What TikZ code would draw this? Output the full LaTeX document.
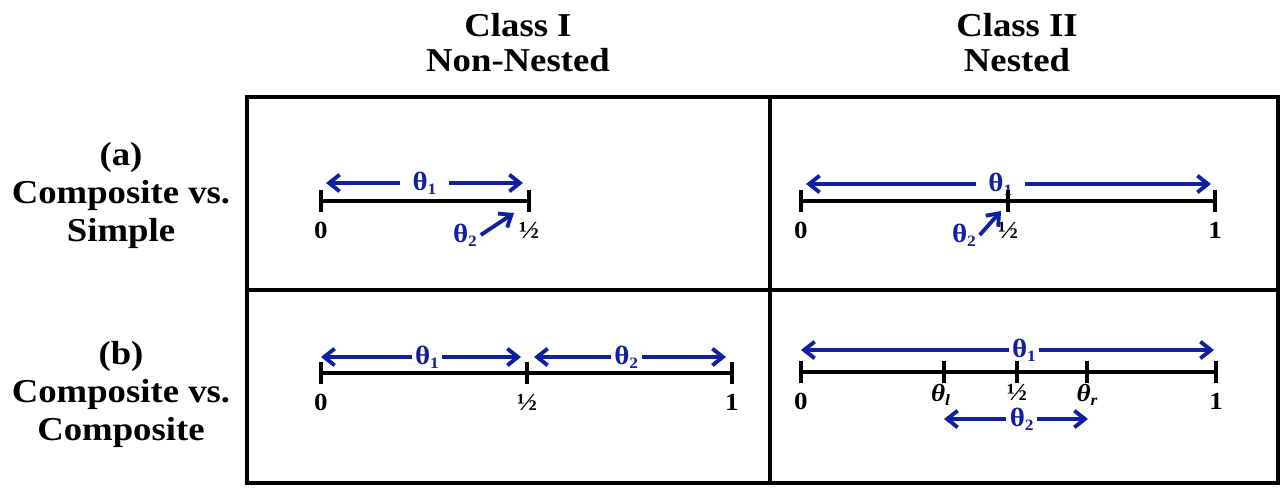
\documentclass[tikz,border=0pt]{standalone}
\usepackage{fontspec}
\setmainfont[FakeStretch=1.1]{Liberation Serif}
\usetikzlibrary{arrows.meta, positioning}
\definecolor{azul}{RGB}{16,32,160}
\tikzset{
    marco/.style = {line width=2.8pt},
    recta/.style = {line width=2.2pt},
    punta/.tip = {Straight Barb[length=6pt, width=9.5pt]},
    rango/.style = {azul, line width=2.2pt, punta-punta},
    flecha/.style = {azul, line width=2.2pt, -punta},
    theta/.style = {fill=white, text=azul, inner xsep=2pt, inner ysep=0pt, font=\fontsize{15}{15}\selectfont\bfseries},
    valor/.style = {inner sep=0pt, font=\fontsize{14}{14}\selectfont\bfseries},
    titulo/.style = {align=center, inner sep=0pt, font=\fontsize{19}{20}\selectfont\bfseries},
    fila/.style = {titulo, font=\fontsize{19}{21.5}\selectfont\bfseries}
}
\newcommand{\tsub}[1]{θ\raisebox{-0.35ex}{\fontsize{9}{9}\selectfont #1}}

\begin{document}
\begin{tikzpicture}[x=0.02cm, y=-0.02cm, node distance=0.42cm]
    \useasboundingbox (0,0) rectangle (1281,487);
    % Marco
    \draw[marco] (247,97) rectangle (1278,483);
    \draw[marco] (770,97) -- (770,483);
    \draw[marco] (247,290) -- (1278,290);
    % Titulos
    \node[titulo, anchor=north] (claseI) at (518,13) {Class I\\Non-Nested};
    \node[titulo, anchor=north] (claseII) at (1017,13) {Class II\\Nested};
    \node[fila, anchor=north] (filaA) at (121,142) {(a)\\Composite vs.\\Simple};
    \node[fila, anchor=north] (filaB) at (121,341) {(b)\\Composite vs.\\Composite};
    % (a) Class I
    \coordinate (aI0) at (321,201);
    \coordinate (aIm) at (529,201);
    \coordinate (aIt1L) at (326,183);
    \coordinate (aIt1R) at (523,183);
    \coordinate (aIp2) at (514,213);
    \draw[rango] (aIt1L) -- node[theta, inner xsep=7pt] {\tsub{1}} (aIt1R);
    \draw[recta] (aI0) -- (aIm);
    \foreach \p in {aI0,aIm} \draw[recta] (\p) ++(0,-11) -- ++(0,22);
    \node[valor, below=of aI0] (aI0l) {0};
    \node[valor, below=of aIm] (aIml) {½};
    \node[theta, fill=none] (aIt2) at (465,235) {\tsub{2}};
    \draw[flecha] (aIt2.east) -- (aIp2);
    % (a) Class II
    \coordinate (aII0) at (801,201);
    \coordinate (aIIm) at (1008,201);
    \coordinate (aII1) at (1215,201);
    \coordinate (aIIt1L) at (806,184);
    \coordinate (aIIt1R) at (1211,184);
    \coordinate (aIIp2) at (1001,211);
    \draw[rango] (aIIt1L) -- node[theta, inner xsep=7pt, pos=0.48] {\tsub{1}} (aIIt1R);
    \draw[recta] (aII0) -- (aII1);
    \foreach \p in {aII0,aIIm,aII1} \draw[recta] (\p) ++(0,-11) -- ++(0,22);
    \node[valor, below=of aII0] (aII0l) {0};
    \node[valor, below=of aIIm] (aIIml) {½};
    \node[valor, below=of aII1] (aII1l) {1};
    \node[theta, fill=none] (aIIt2) at (964,235) {\tsub{2}};
    \draw[flecha] (aIIt2.east) -- (aIIp2);
    % (b) Class I
    \coordinate (bI0) at (321,373);
    \coordinate (bIm) at (527,373);
    \coordinate (bI1) at (732,373);
    \coordinate (bIt1L) at (321,357);
    \coordinate (bIt1R) at (521,357);
    \coordinate (bIt2L) at (534,357);
    \coordinate (bIt2R) at (726,357);
    \draw[rango] (bIt1L) -- node[theta, pos=0.53] {\tsub{1}} (bIt1R);
    \draw[rango] (bIt2L) -- node[theta, pos=0.48] {\tsub{2}} (bIt2R);
    \draw[recta] (bI0) -- (bI1);
    \foreach \p in {bI0,bIm,bI1} \draw[recta] (\p) ++(0,-11) -- ++(0,22);
    \node[valor, below=of bI0] (bI0l) {0};
    \node[valor, below=of bIm] (bIml) {½};
    \node[valor, below=of bI1] (bI1l) {1};
    % (b) Class II
    \coordinate (bII0) at (801,372);
    \coordinate (bIIl) at (944,372);
    \coordinate (bIIm) at (1017,372);
    \coordinate (bIIr) at (1087,372);
    \coordinate (bII1) at (1216,372);
    \coordinate (bIIt1L) at (801,350);
    \coordinate (bIIt1R) at (1214,350);
    \coordinate (bIIt2L) at (944,419);
    \coordinate (bIIt2R) at (1088,419);
    \draw[rango] (bIIt1L) -- node[theta, pos=0.54] {\tsub{1}} (bIIt1R);
    \draw[rango] (bIIt2L) -- node[theta, pos=0.54] {\tsub{2}} (bIIt2R);
    \draw[recta] (bII0) -- (bII1);
    \foreach \p in {bII0,bIIl,bIIm,bIIr,bII1} \draw[recta] (\p) ++(0,-11) -- ++(0,22);
    \node[valor, below=of bII0] (bII0l) {0};
    \node[valor, below=0.24cm of bIIl, xshift=-2pt] (bIIll) {\itshape\tsub{l}};
    \node[valor, below=0.24cm of bIIm] (bIIml) {½};
    \node[valor, below=0.24cm of bIIr] (bIIrl) {\itshape\tsub{r}};
    \node[valor, below=of bII1] (bII1l) {1};
\end{tikzpicture}
\end{document}
